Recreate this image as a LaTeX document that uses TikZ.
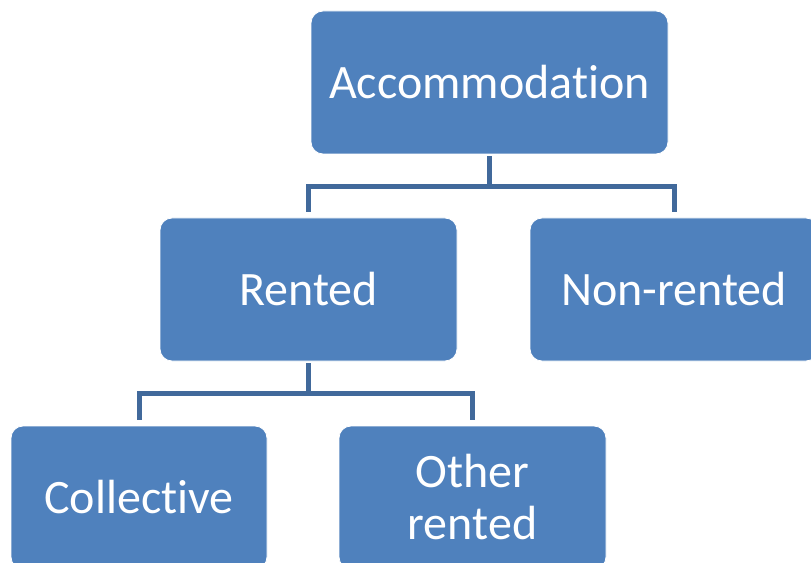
\documentclass[tikz,border=0pt]{standalone}
\usepackage{fontspec}
\setmainfont{Carlito}[RawFeature={-liga}]
\usepackage{tikz}
\usetikzlibrary{positioning,calc}
\definecolor{boxcolor}{HTML}{4F81BD}
\definecolor{linkcolor}{HTML}{41699B}

\begin{document}
\begin{tikzpicture}[
    x=0.75pt, y=-0.75pt,
    unit/.style={draw=white, line width=0.6pt, fill=boxcolor, rounded corners=9pt,
      text=white, minimum height=107.25pt, align=center,
      font=\fontsize{36}{39}\selectfont},
    link/.style={draw=linkcolor, line width=3.75pt, shorten <=1.5pt, shorten >=4pt},
  ]
  \useasboundingbox (0,0) rectangle (811,563);
  \node[unit, minimum width=267.75pt] (acc) at (489.5,82.5) {Accommodation};
  \node[unit, minimum width=222.75pt] (rent) at (308.5,289.5) {Rented};
  \node[unit, minimum width=216pt] (nonrent) at (674,289.5) {Non-rented};
  \node[unit, minimum width=192pt] (coll) at (139,497.5) {Collective};
  \node[unit, minimum width=200.25pt] (other) at (472.5,497.5) {Other\\rented};
  % tree links
  \draw[link] (acc.south) -- ++(0,-24pt) -| (rent.north);
  \draw[link] (acc.south) -- ++(0,-24pt) -| (nonrent.north);
  \draw[link] (rent.south) -- ++(0,-24pt) -| (coll.north);
  \draw[link] (rent.south) -- ++(0,-24pt) -| (other.north);
\end{tikzpicture}
\end{document}
